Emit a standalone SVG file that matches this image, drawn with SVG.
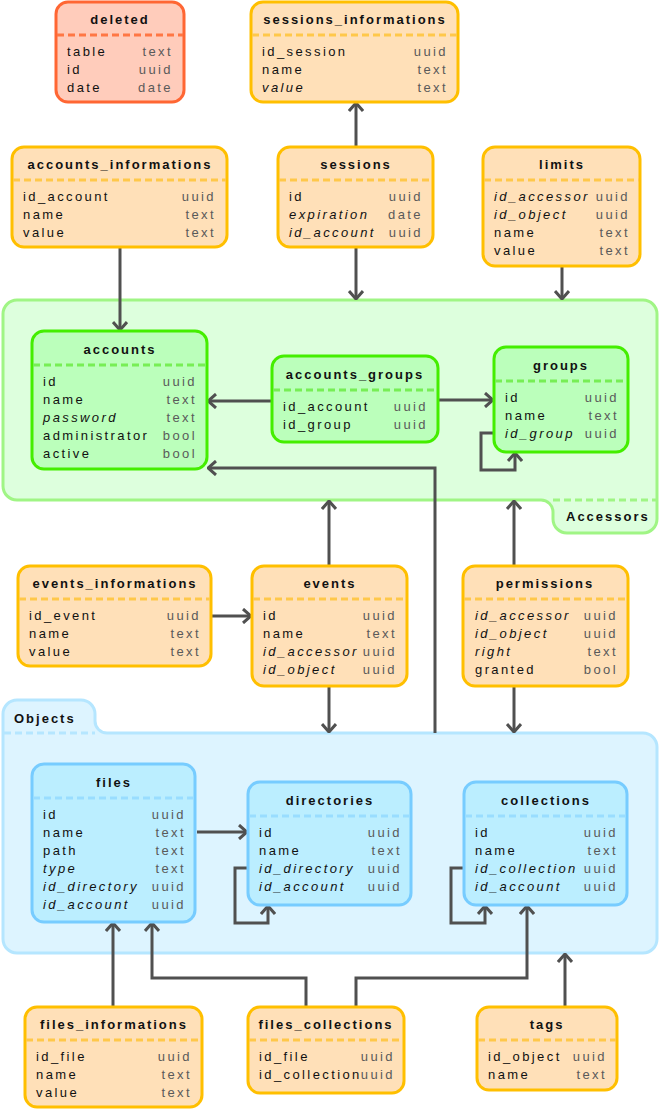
<svg xmlns="http://www.w3.org/2000/svg" width="660" height="1110" viewBox="0 0 660 1110">
<defs>
<style>
text{font-family:"Liberation Sans",Arial,sans-serif;font-size:13px;}
.t{font-weight:bold;text-anchor:middle;letter-spacing:2px;fill:#111;}
.f{letter-spacing:2.4px;fill:#111;}
.i{font-style:italic;}
.ty{letter-spacing:2.4px;fill:#5a5a5a;text-anchor:end;}
.o rect{fill:#FFE0B8;stroke:#FFBF00;stroke-width:3;}
.o line{stroke:#FFC84A;stroke-width:3;stroke-dasharray:7 4;}
.r rect{fill:#FFCCBB;stroke:#FF6633;stroke-width:3;}
.r line{stroke:#FF7744;stroke-width:3;stroke-dasharray:7 4;}
.g rect{fill:#BBFFBB;stroke:#44EE00;stroke-width:3;}
.g line{stroke:#77EE55;stroke-width:3;stroke-dasharray:7 4;}
.b rect{fill:#BBEEFF;stroke:#77CCFF;stroke-width:3;}
.b line{stroke:#99DDFF;stroke-width:3;stroke-dasharray:7 4;}
.c{fill:none;stroke:#505050;stroke-width:3;marker-end:url(#arr);}
.lbl{font-weight:bold;letter-spacing:2px;fill:#111;}
</style>
<marker id="arr" viewBox="0 0 10 16" refX="9" refY="8" markerWidth="10" markerHeight="16" markerUnits="userSpaceOnUse" orient="auto">
<path d="M1,1 L9,8 L1,15" fill="none" stroke="#505050" stroke-width="3"/>
</marker>
</defs>

<g id="group-accessors">
<path d="M17,300 H643 A14,14 0 0 1 657,314 V519 A14,14 0 0 1 643,533 H567 A14,14 0 0 1 553,519 V512 A12,12 0 0 0 541,500 H17 A14,14 0 0 1 3,486 V314 A14,14 0 0 1 17,300 Z" fill="#DDFFDD" stroke="#A0F585" stroke-width="3"/>
<line x1="553" y1="500" x2="656" y2="500" stroke="#A0F585" stroke-width="3" stroke-dasharray="7 4"/>
<text class="lbl" x="566" y="521">Accessors</text>
</g>
<g id="group-objects">
<path d="M17,700 H81 A14,14 0 0 1 95,714 V721 A12,12 0 0 0 107,733 H643 A14,14 0 0 1 657,747 V939 A14,14 0 0 1 643,953 H17 A14,14 0 0 1 3,939 V714 A14,14 0 0 1 17,700 Z" fill="#DDF4FF" stroke="#B5E6FF" stroke-width="3"/>
<line x1="4" y1="733" x2="95" y2="733" stroke="#B5E6FF" stroke-width="3" stroke-dasharray="7 4"/>
<text class="lbl" x="14" y="723">Objects</text>
</g>

<g id="connectors">
<path class="c" d="M356,147 V103"/>
<path class="c" d="M120,247 V330"/>
<path class="c" d="M356,247 V299"/>
<path class="c" d="M562,266 V299"/>
<path class="c" d="M272,401 H208"/>
<path class="c" d="M438,400 H493"/>
<path class="c" d="M494,433 H481 V470 H515 V453"/>
<path class="c" d="M435,733 V468 H208"/>
<path class="c" d="M211,616 H251"/>
<path class="c" d="M329,566 V501"/>
<path class="c" d="M514,566 V501"/>
<path class="c" d="M329,686 V732"/>
<path class="c" d="M514,686 V732"/>
<path class="c" d="M197,832 H247"/>
<path class="c" d="M248,868 H235 V923 H268 V906"/>
<path class="c" d="M464,868 H451 V923 H485 V906"/>
<path class="c" d="M113,1007 V923"/>
<path class="c" d="M306,1007 V978 H152 V923"/>
<path class="c" d="M356,1007 V978 H527 V906"/>
<path class="c" d="M565,1007 V954"/>
</g>

<g id="deleted" class="r">
<rect x="56" y="2" width="128" height="100" rx="12"/>
<line x1="57" y1="35" x2="183" y2="35"/>
<text class="t" x="120" y="24">deleted</text>
<text class="f" x="67" y="56">table</text><text class="ty" x="173" y="56">text</text>
<text class="f" x="67" y="74">id</text><text class="ty" x="173" y="74">uuid</text>
<text class="f" x="67" y="92">date</text><text class="ty" x="173" y="92">date</text>
</g>

<g id="sessions_informations" class="o">
<rect x="251" y="2" width="207" height="100" rx="12"/>
<line x1="252" y1="35" x2="457" y2="35"/>
<text class="t" x="355" y="24">sessions_informations</text>
<text class="f" x="262" y="56">id_session</text><text class="ty" x="448" y="56">uuid</text>
<text class="f" x="262" y="74">name</text><text class="ty" x="448" y="74">text</text>
<text class="f i" x="262" y="92">value</text><text class="ty" x="448" y="92">text</text>
</g>

<g id="accounts_informations" class="o">
<rect x="12" y="147" width="215" height="100" rx="12"/>
<line x1="13" y1="180" x2="226" y2="180"/>
<text class="t" x="120" y="169">accounts_informations</text>
<text class="f" x="23" y="201">id_account</text><text class="ty" x="216" y="201">uuid</text>
<text class="f" x="23" y="219">name</text><text class="ty" x="216" y="219">text</text>
<text class="f" x="23" y="237">value</text><text class="ty" x="216" y="237">text</text>
</g>

<g id="sessions" class="o">
<rect x="278" y="147" width="155" height="100" rx="12"/>
<line x1="279" y1="180" x2="432" y2="180"/>
<text class="t" x="356" y="169">sessions</text>
<text class="f" x="289" y="201">id</text><text class="ty" x="423" y="201">uuid</text>
<text class="f i" x="289" y="219">expiration</text><text class="ty" x="423" y="219">date</text>
<text class="f i" x="289" y="237">id_account</text><text class="ty" x="423" y="237">uuid</text>
</g>

<g id="limits" class="o">
<rect x="483" y="147" width="157" height="119" rx="12"/>
<line x1="484" y1="180" x2="639" y2="180"/>
<text class="t" x="562" y="169">limits</text>
<text class="f i" x="494" y="201">id_accessor</text><text class="ty" x="630" y="201">uuid</text>
<text class="f i" x="494" y="219">id_object</text><text class="ty" x="630" y="219">uuid</text>
<text class="f" x="494" y="237">name</text><text class="ty" x="630" y="237">text</text>
<text class="f" x="494" y="255">value</text><text class="ty" x="630" y="255">text</text>
</g>

<g id="accounts" class="g">
<rect x="32" y="331" width="175" height="138" rx="12"/>
<line x1="33" y1="365" x2="206" y2="365"/>
<text class="t" x="120" y="354">accounts</text>
<text class="f" x="43" y="386">id</text><text class="ty" x="197" y="386">uuid</text>
<text class="f" x="43" y="404">name</text><text class="ty" x="197" y="404">text</text>
<text class="f i" x="43" y="422">password</text><text class="ty" x="197" y="422">text</text>
<text class="f" x="43" y="440">administrator</text><text class="ty" x="197" y="440">bool</text>
<text class="f" x="43" y="458">active</text><text class="ty" x="197" y="458">bool</text>
</g>

<g id="accounts_groups" class="g">
<rect x="272" y="356" width="166" height="86" rx="12"/>
<line x1="273" y1="390" x2="437" y2="390"/>
<text class="t" x="355" y="379">accounts_groups</text>
<text class="f" x="283" y="411">id_account</text><text class="ty" x="428" y="411">uuid</text>
<text class="f" x="283" y="429">id_group</text><text class="ty" x="428" y="429">uuid</text>
</g>

<g id="groups" class="g">
<rect x="494" y="347" width="134" height="105" rx="12"/>
<line x1="495" y1="381" x2="627" y2="381"/>
<text class="t" x="561" y="370">groups</text>
<text class="f" x="505" y="402">id</text><text class="ty" x="619" y="402">uuid</text>
<text class="f" x="505" y="420">name</text><text class="ty" x="619" y="420">text</text>
<text class="f i" x="505" y="438">id_group</text><text class="ty" x="619" y="438">uuid</text>
</g>

<g id="events_informations" class="o">
<rect x="18" y="566" width="193" height="100" rx="12"/>
<line x1="19" y1="599" x2="210" y2="599"/>
<text class="t" x="115" y="588">events_informations</text>
<text class="f" x="29" y="620">id_event</text><text class="ty" x="201" y="620">uuid</text>
<text class="f" x="29" y="638">name</text><text class="ty" x="201" y="638">text</text>
<text class="f" x="29" y="656">value</text><text class="ty" x="201" y="656">text</text>
</g>

<g id="events" class="o">
<rect x="252" y="566" width="155" height="120" rx="12"/>
<line x1="253" y1="599" x2="406" y2="599"/>
<text class="t" x="330" y="588">events</text>
<text class="f" x="263" y="620">id</text><text class="ty" x="397" y="620">uuid</text>
<text class="f" x="263" y="638">name</text><text class="ty" x="397" y="638">text</text>
<text class="f i" x="263" y="656">id_accessor</text><text class="ty" x="397" y="656">uuid</text>
<text class="f i" x="263" y="674">id_object</text><text class="ty" x="397" y="674">uuid</text>
</g>

<g id="permissions" class="o">
<rect x="463" y="566" width="165" height="120" rx="12"/>
<line x1="464" y1="599" x2="627" y2="599"/>
<text class="t" x="545" y="588">permissions</text>
<text class="f i" x="475" y="620">id_accessor</text><text class="ty" x="618" y="620">uuid</text>
<text class="f i" x="475" y="638">id_object</text><text class="ty" x="618" y="638">uuid</text>
<text class="f i" x="475" y="656">right</text><text class="ty" x="618" y="656">text</text>
<text class="f" x="475" y="674">granted</text><text class="ty" x="618" y="674">bool</text>
</g>

<g id="files" class="b">
<rect x="32" y="764" width="163" height="158" rx="12"/>
<line x1="33" y1="798" x2="194" y2="798"/>
<text class="t" x="114" y="787">files</text>
<text class="f" x="43" y="819">id</text><text class="ty" x="186" y="819">uuid</text>
<text class="f" x="43" y="837">name</text><text class="ty" x="186" y="837">text</text>
<text class="f" x="43" y="855">path</text><text class="ty" x="186" y="855">text</text>
<text class="f i" x="43" y="873">type</text><text class="ty" x="186" y="873">text</text>
<text class="f i" x="43" y="891">id_directory</text><text class="ty" x="186" y="891">uuid</text>
<text class="f i" x="43" y="909">id_account</text><text class="ty" x="186" y="909">uuid</text>
</g>

<g id="directories" class="b">
<rect x="248" y="782" width="163" height="123" rx="12"/>
<line x1="249" y1="816" x2="410" y2="816"/>
<text class="t" x="330" y="805">directories</text>
<text class="f" x="259" y="837">id</text><text class="ty" x="402" y="837">uuid</text>
<text class="f" x="259" y="855">name</text><text class="ty" x="402" y="855">text</text>
<text class="f i" x="259" y="873">id_directory</text><text class="ty" x="402" y="873">uuid</text>
<text class="f i" x="259" y="891">id_account</text><text class="ty" x="402" y="891">uuid</text>
</g>

<g id="collections" class="b">
<rect x="464" y="782" width="163" height="123" rx="12"/>
<line x1="465" y1="816" x2="626" y2="816"/>
<text class="t" x="546" y="805">collections</text>
<text class="f" x="475" y="837">id</text><text class="ty" x="618" y="837">uuid</text>
<text class="f" x="475" y="855">name</text><text class="ty" x="618" y="855">text</text>
<text class="f i" x="475" y="873">id_collection</text><text class="ty" x="618" y="873">uuid</text>
<text class="f i" x="475" y="891">id_account</text><text class="ty" x="618" y="891">uuid</text>
</g>

<g id="files_informations" class="o">
<rect x="25" y="1007" width="177" height="100" rx="12"/>
<line x1="26" y1="1040" x2="201" y2="1040"/>
<text class="t" x="114" y="1029">files_informations</text>
<text class="f" x="36" y="1061">id_file</text><text class="ty" x="192" y="1061">uuid</text>
<text class="f" x="36" y="1079">name</text><text class="ty" x="192" y="1079">text</text>
<text class="f" x="36" y="1097">value</text><text class="ty" x="192" y="1097">text</text>
</g>

<g id="files_collections" class="o">
<rect x="248" y="1007" width="156" height="86" rx="12"/>
<line x1="249" y1="1040" x2="403" y2="1040"/>
<text class="t" x="326" y="1029">files_collections</text>
<text class="f" x="259" y="1061">id_file</text><text class="ty" x="395" y="1061">uuid</text>
<text class="f" x="259" y="1079">id_collection</text><text class="ty" x="395" y="1079">uuid</text>
</g>

<g id="tags" class="o">
<rect x="477" y="1007" width="140" height="83" rx="12"/>
<line x1="478" y1="1040" x2="616" y2="1040"/>
<text class="t" x="547" y="1029">tags</text>
<text class="f" x="488" y="1061">id_object</text><text class="ty" x="607" y="1061">uuid</text>
<text class="f" x="488" y="1079">name</text><text class="ty" x="607" y="1079">text</text>
</g>
</svg>
